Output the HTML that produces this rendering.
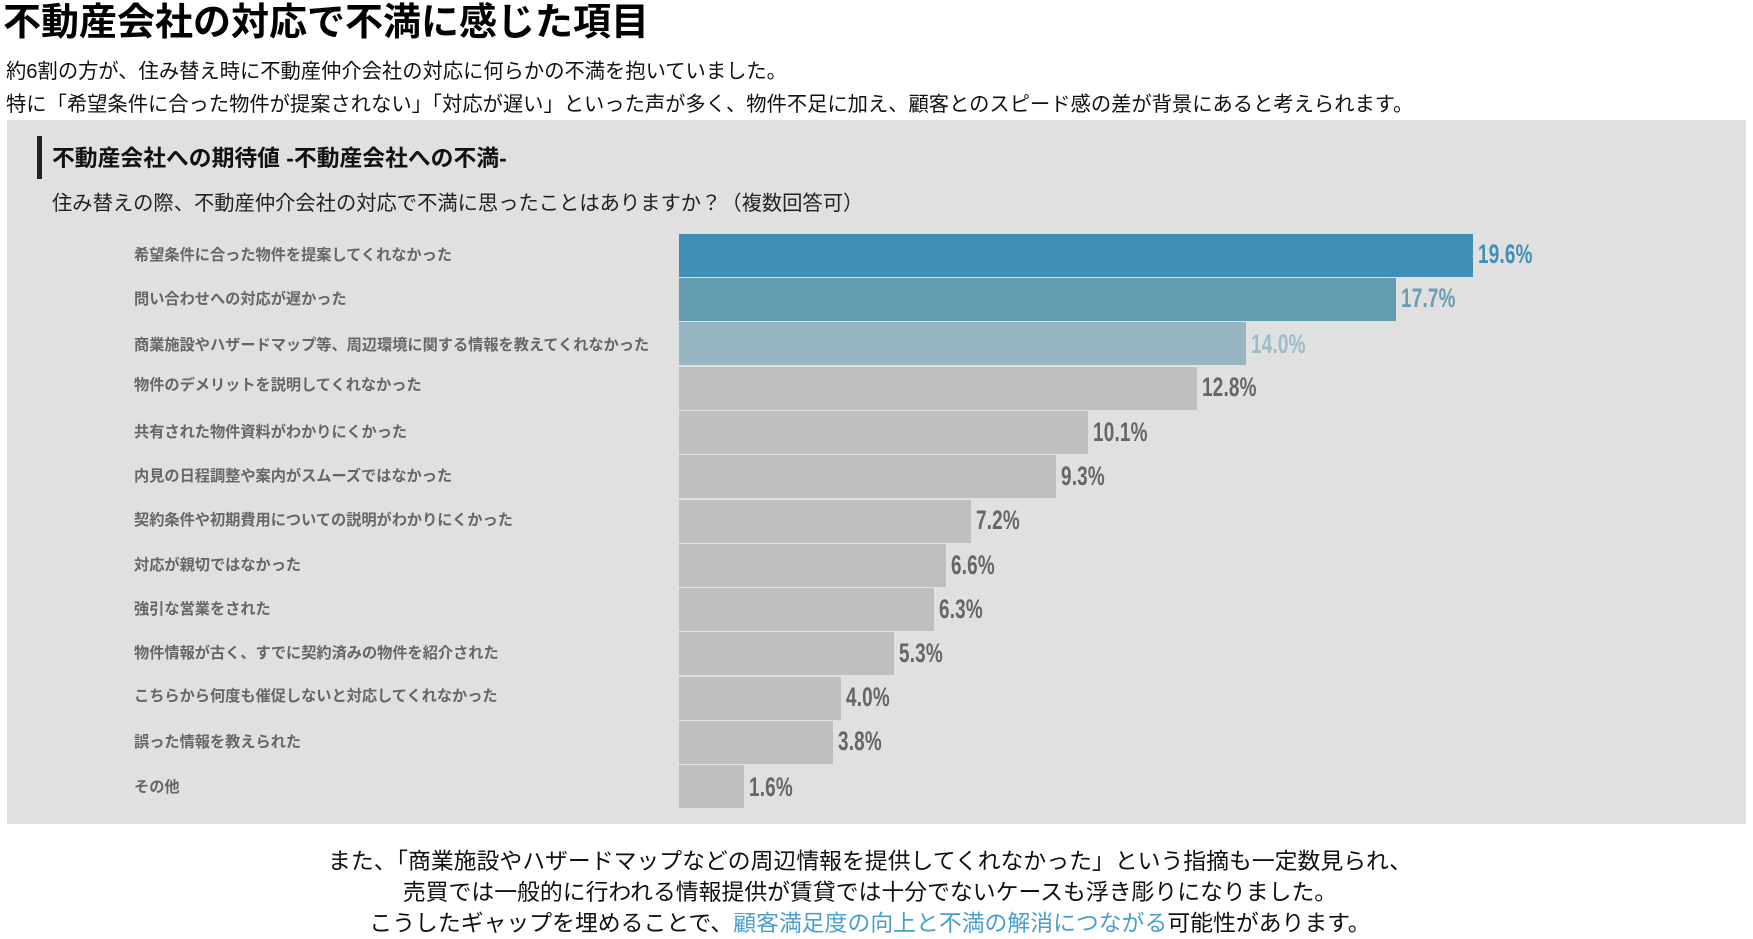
<!DOCTYPE html>
<html lang="ja">
<head>
<meta charset="utf-8">
<style>
  html, body { margin:0; padding:0; }
  body {
    width:1753px; height:937px; overflow:hidden; background:#ffffff; position:relative;
    font-family:"Liberation Sans","Noto Sans CJK JP",sans-serif; color:#111;
  }
  .abs { position:absolute; white-space:nowrap; }
  .title { left:3px; top:2px; font-size:38px; line-height:43px; font-weight:bold; color:#000; }
  .body1 { left:6px; top:61px; font-size:20.3px; line-height:22px; color:#111; }
  .body2 { left:6px; top:94px; font-size:20.3px; line-height:22px; color:#111; }
  .panel { left:7px; top:120px; width:1739px; height:704px; background:#e0e0e0; }
  .vbar { left:37px; top:136px; width:5px; height:43px; background:#222; }
  .heading { left:52px; top:145px; font-size:22.8px; line-height:26px; font-weight:bold; color:#111; }
  .sub { left:52px; top:193px; font-size:20.3px; line-height:22px; color:#222; }
  .cat { left:134px; font-size:15.2px; line-height:18px; font-weight:bold; color:#666; }
  .bar { left:679px; height:43px; }
  .val { font-size:27px; line-height:30px; font-weight:bold; transform:scaleX(0.70); transform-origin:0 50%; letter-spacing:0.3px; }
  .bottom { left:3px; top:846px; width:1734px; text-align:center; font-size:22.85px; line-height:31px; color:#111; white-space:normal; }
  .hl { color:#4a9fcc; }
</style>
</head>
<body>
  <div class="abs title">不動産会社の対応で不満に感じた項目</div>
  <div class="abs body1">約6割の方が、住み替え時に不動産仲介会社の対応に何らかの不満を抱いていました。</div>
  <div class="abs body2">特に「希望条件に合った物件が提案されない」「対応が遅い」といった声が多く、物件不足に加え、顧客とのスピード感の差が背景にあると考えられます。</div>

  <div class="abs panel"></div>
  <div class="abs vbar"></div>
  <div class="abs heading">不動産会社への期待値 -不動産会社への不満-</div>
  <div class="abs sub">住み替えの際、不動産仲介会社の対応で不満に思ったことはありますか？（複数回答可）</div>

  <div class="abs cat" style="top:247px;">希望条件に合った物件を提案してくれなかった</div>
  <div class="abs cat" style="top:291px;">問い合わせへの対応が遅かった</div>
  <div class="abs cat" style="top:337px;">商業施設やハザードマップ等、周辺環境に関する情報を教えてくれなかった</div>
  <div class="abs cat" style="top:377px;">物件のデメリットを説明してくれなかった</div>
  <div class="abs cat" style="top:424px;">共有された物件資料がわかりにくかった</div>
  <div class="abs cat" style="top:468px;">内見の日程調整や案内がスムーズではなかった</div>
  <div class="abs cat" style="top:512px;">契約条件や初期費用についての説明がわかりにくかった</div>
  <div class="abs cat" style="top:557px;">対応が親切ではなかった</div>
  <div class="abs cat" style="top:601px;">強引な営業をされた</div>
  <div class="abs cat" style="top:645px;">物件情報が古く、すでに契約済みの物件を紹介された</div>
  <div class="abs cat" style="top:688px;">こちらから何度も催促しないと対応してくれなかった</div>
  <div class="abs cat" style="top:734px;">誤った情報を教えられた</div>
  <div class="abs cat" style="top:779px;">その他</div>

  <div class="abs bar" style="top:234px;width:794px;background:#408fb7;"></div>
  <div class="abs bar" style="top:278px;width:717px;background:#639bb0;"></div>
  <div class="abs bar" style="top:322px;width:567px;background:#96b6c2;"></div>
  <div class="abs bar" style="top:367px;width:518px;background:#bfbfbf;"></div>
  <div class="abs bar" style="top:411px;width:409px;background:#bfbfbf;"></div>
  <div class="abs bar" style="top:455px;width:377px;background:#bfbfbf;"></div>
  <div class="abs bar" style="top:500px;width:292px;background:#bfbfbf;"></div>
  <div class="abs bar" style="top:544px;width:267px;background:#bfbfbf;"></div>
  <div class="abs bar" style="top:588px;width:255px;background:#bfbfbf;"></div>
  <div class="abs bar" style="top:632px;width:215px;background:#bfbfbf;"></div>
  <div class="abs bar" style="top:677px;width:162px;background:#bfbfbf;"></div>
  <div class="abs bar" style="top:721px;width:154px;background:#bfbfbf;"></div>
  <div class="abs bar" style="top:765px;width:65px;background:#bfbfbf;"></div>

  <div class="abs val" style="left:1478px;top:239px;color:#3f8fb8;">19.6%</div>
  <div class="abs val" style="left:1401px;top:283px;color:#6a9db2;">17.7%</div>
  <div class="abs val" style="left:1251px;top:329px;color:#9bbcc8;">14.0%</div>
  <div class="abs val" style="left:1202px;top:372px;color:#666;">12.8%</div>
  <div class="abs val" style="left:1093px;top:417px;color:#666;">10.1%</div>
  <div class="abs val" style="left:1061px;top:461px;color:#666;">9.3%</div>
  <div class="abs val" style="left:976px;top:505px;color:#666;">7.2%</div>
  <div class="abs val" style="left:951px;top:550px;color:#666;">6.6%</div>
  <div class="abs val" style="left:939px;top:594px;color:#666;">6.3%</div>
  <div class="abs val" style="left:899px;top:638px;color:#666;">5.3%</div>
  <div class="abs val" style="left:846px;top:682px;color:#666;">4.0%</div>
  <div class="abs val" style="left:838px;top:726px;color:#666;">3.8%</div>
  <div class="abs val" style="left:749px;top:772px;color:#666;">1.6%</div>

  <div class="abs bottom">
    また、「商業施設やハザードマップなどの周辺情報を提供してくれなかった」という指摘も一定数見られ、<br>
    売買では一般的に行われる情報提供が賃貸では十分でないケースも浮き彫りになりました。<br>
    こうしたギャップを埋めることで、<span class="hl">顧客満足度の向上と不満の解消につながる</span>可能性があります。
  </div>
</body>
</html>
